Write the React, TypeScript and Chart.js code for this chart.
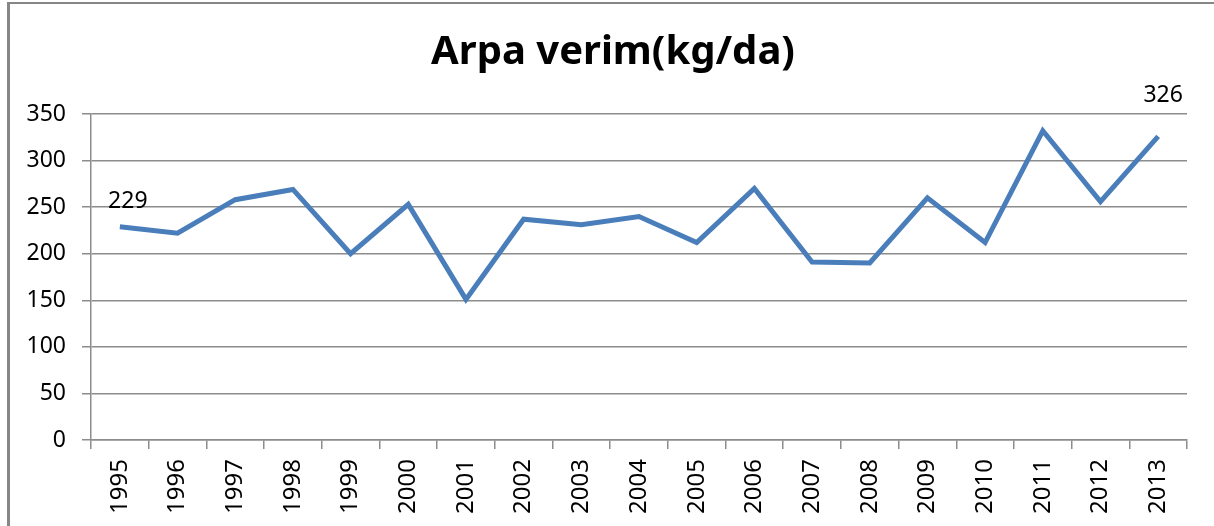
import React, { useEffect, useRef } from "react";
import { Chart, registerables } from "chart.js";

Chart.register(...registerables);

const years: string[] = [
  "1995", "1996", "1997", "1998", "1999", "2000", "2001", "2002", "2003", "2004",
  "2005", "2006", "2007", "2008", "2009", "2010", "2011", "2012", "2013",
];
const yieldValues: number[] = [
  229, 222, 258, 269, 200, 253, 151, 237, 231, 240,
  212, 270, 191, 190, 260, 212, 332, 256, 326,
];
const labelledIndices: number[] = [0, 18];
const titleText = "Arpa verim(kg/da)";

const labelOffsets: Record<number, [number, number]> = {
  0: [8, -25],
  18: [5, -41],
};

const dataLabelPlugin = {
  id: "dataLabels",
  afterDatasetsDraw(chart: any) {
    const ctx = chart.ctx;
    const meta = chart.getDatasetMeta(0);
    ctx.save();
    ctx.fillStyle = "#000";
    ctx.font = "23px 'Noto Sans', sans-serif";
    ctx.textAlign = "center";
    ctx.textBaseline = "middle";
    labelledIndices.forEach((i) => {
      const pt = meta.data[i];
      const [dx, dy] = labelOffsets[i] || [0, -20];
      ctx.fillText(String(yieldValues[i]), pt.x + dx, pt.y + dy);
    });
    ctx.restore();
  },
};

const centeredTitlePlugin = {
  id: "centeredTitle",
  afterDraw(chart: any) {
    const ctx = chart.ctx;
    ctx.save();
    ctx.fillStyle = "#000";
    ctx.font = "bold 40px 'Noto Sans', sans-serif";
    ctx.textAlign = "center";
    ctx.textBaseline = "alphabetic";
    ctx.fillText(titleText, chart.width / 2 + 6, 64);
    ctx.restore();
  },
};

export default function App() {
  const canvasRef = useRef<HTMLCanvasElement | null>(null);

  useEffect(() => {
    if (!canvasRef.current) return;
    const chart = new Chart(canvasRef.current, {
      type: "line",
      data: {
        labels: years,
        datasets: [
          {
            data: yieldValues,
            borderColor: "#4a7ebb",
            borderWidth: 5,
            pointRadius: 0,
            tension: 0,
            fill: false,
          },
        ],
      },
      options: {
        animation: false,
        responsive: false,
        maintainAspectRatio: false,
        layout: { padding: { left: 0, right: 27, top: 114, bottom: 0 } },
        plugins: {
          legend: { display: false },
          tooltip: { enabled: false },
          title: { display: false },
        },
        scales: {
          x: {
            offset: true,
            grid: {
              display: true,
              offset: true,
              drawOnChartArea: false,
              drawTicks: true,
              tickLength: 9,
              color: "#8c8c8c",
              lineWidth: 1.5,
            },
            border: { display: true, color: "#8c8c8c", width: 1.5 },
            ticks: {
              color: "#000",
              minRotation: 90,
              maxRotation: 90,
              padding: 10,
              font: { family: "'Noto Sans', sans-serif", size: 24 },
            },
            afterFit(scale: any) {
              scale.height = 86;
            },
          },
          y: {
            min: 0,
            max: 350,
            ticks: {
              stepSize: 50,
              color: "#000",
              padding: 16,
              font: { family: "'Noto Sans', sans-serif", size: 23 },
            },
            grid: {
              color: "#8c8c8c",
              lineWidth: 1.5,
              tickLength: 9,
            },
            border: { display: true, color: "#8c8c8c", width: 1.5 },
            afterFit(scale: any) {
              scale.width = 91;
            },
          },
        },
      },
      plugins: [dataLabelPlugin, centeredTitlePlugin],
    });
    return () => chart.destroy();
  }, []);

  return (
    <div style={{ position: "absolute", left: 0, top: 0, width: 1214, height: 526, background: "#fff" }}>
      <div
        style={{
          position: "absolute",
          left: 7,
          top: 2,
          width: 1214,
          height: 600,
          borderLeft: "3px solid #868686",
          borderTop: "2px solid #868686",
          boxSizing: "border-box",
        }}
      />
      <canvas ref={canvasRef} width={1214} height={526} style={{ position: "absolute", left: 0, top: 0 }} />
    </div>
  );
}
